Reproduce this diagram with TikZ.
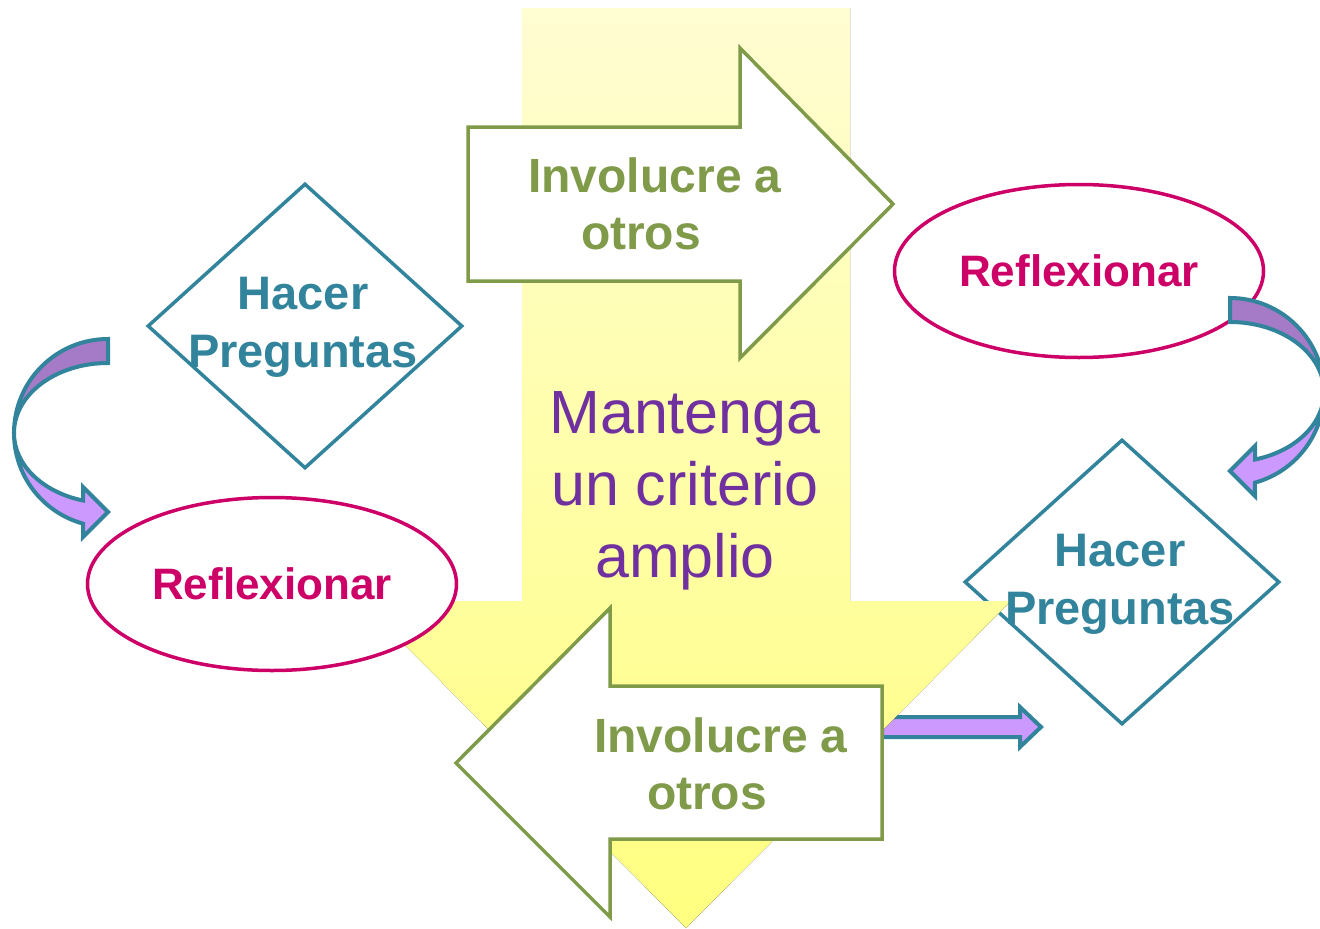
\documentclass[tikz,border=0pt]{standalone}
\usepackage{fontspec}
\setmainfont{Liberation Sans}
\usetikzlibrary{shapes.geometric}

\definecolor{tealline}{HTML}{31849B}
\definecolor{reflexcol}{HTML}{CC0066}
\definecolor{verde}{HTML}{7F9A48}
\definecolor{morado}{HTML}{7030A0}
\definecolor{lila}{HTML}{CC99FF}
\definecolor{lilaosc}{HTML}{A57BC8}
\definecolor{amarilloA}{HTML}{FFFDD2}
\definecolor{amarilloB}{HTML}{FFFF80}

\begin{document}
\begin{tikzpicture}[x=1pt, y=-1pt, line join=miter,
    pregunta/.style={diamond, draw=tealline, line width=3.5pt, minimum width=315pt, minimum height=285pt, inner sep=0pt},
    preguntatxt/.style={text=tealline, align=center, font=\fontsize{47}{58}\selectfont\bfseries},
    reflex/.style={ellipse, draw=reflexcol, line width=3.5pt, fill=white, minimum width=369pt, minimum height=173pt, inner sep=0pt, text=reflexcol, font=\fontsize{44}{53}\selectfont\bfseries},
    bloque/.style={draw=verde, line width=3.5pt, fill=white},
    involtxt/.style={text=verde, align=center, font=\fontsize{48}{57}\selectfont\bfseries},
    curva/.style={draw=tealline, line width=4pt}]

    \useasboundingbox (0,0) rectangle (1320,929);

    % Hacer preguntas (right), under the big arrow
    \node[pregunta] (dR) at (1122,582) {};

    % Straight purple arrow
    \draw[curva, fill=lila] (882,717) -- (1020,717) -- (1020,707) -- (1041,727) -- (1020,747) -- (1020,737) -- (882,737) -- cycle;

    % Big down arrow
    \fill[top color=amarilloA, bottom color=amarilloB] (522,8) -- (850,8) -- (850,601) -- (1011,601) -- (686,928) -- (361,601) -- (522,601) -- cycle;

    % Hacer preguntas (left)
    \node[pregunta] (dL) at (305,326) {};

    % Reflexionar
    \node[reflex] (rL) at (272,584) {Reflexionar};
    \node[reflex] (rR) at (1079,271) {Reflexionar};

    % Involucre a otros (block arrows)
    \draw[bloque] (468,127) -- (740,127) -- (740,48) -- (893,204) -- (740,358) -- (740,281) -- (468,281) -- cycle;
    \draw[bloque] (882,686) -- (610,686) -- (610,608) -- (456,763) -- (610,917) -- (610,839) -- (882,839) -- cycle;

    % Curved arrows (left)
    \draw[curva, fill=lilaosc] (108,339) arc[start angle=270, end angle=180, radius=94]
        arc[start angle=180, end angle=270, x radius=94, y radius=70] -- cycle;
    \draw[curva, fill=lila] (14,433) arc[start angle=180, end angle=105.4, radius=94]
        -- (83,537) -- (108,512) -- (83,487) -- (83,500.5)
        arc[start angle=105.4, end angle=180, x radius=94, y radius=70] -- cycle;

    % Curved arrows (right)
    \draw[curva, fill=lilaosc] (1230,298) arc[start angle=270, end angle=360, radius=94]
        arc[start angle=0, end angle=-90, x radius=94, y radius=70] -- cycle;
    \draw[curva, fill=lila] (1324,392) arc[start angle=0, end angle=74.6, radius=94]
        -- (1255,496) -- (1230,471) -- (1255,446) -- (1255,459.5)
        arc[start angle=74.6, end angle=0, x radius=94, y radius=70] -- cycle;

    % Texts
    \node[preguntatxt] (tL) at (303,327) {Hacer\\Preguntas};
    \node[preguntatxt] (tR) at (1120,584) {Hacer\\Preguntas};
    \node[involtxt] (iT) at (655,204) {Involucre a\\otros\hspace*{28pt}};
    \node[involtxt] (iB) at (721,764) {Involucre a\\otros\hspace*{28pt}};
    \node[text=morado, align=center, font=\fontsize{61}{72}\selectfont] (crit) at (685,491) {Mantenga\\un criterio\\amplio};

\end{tikzpicture}
\end{document}
